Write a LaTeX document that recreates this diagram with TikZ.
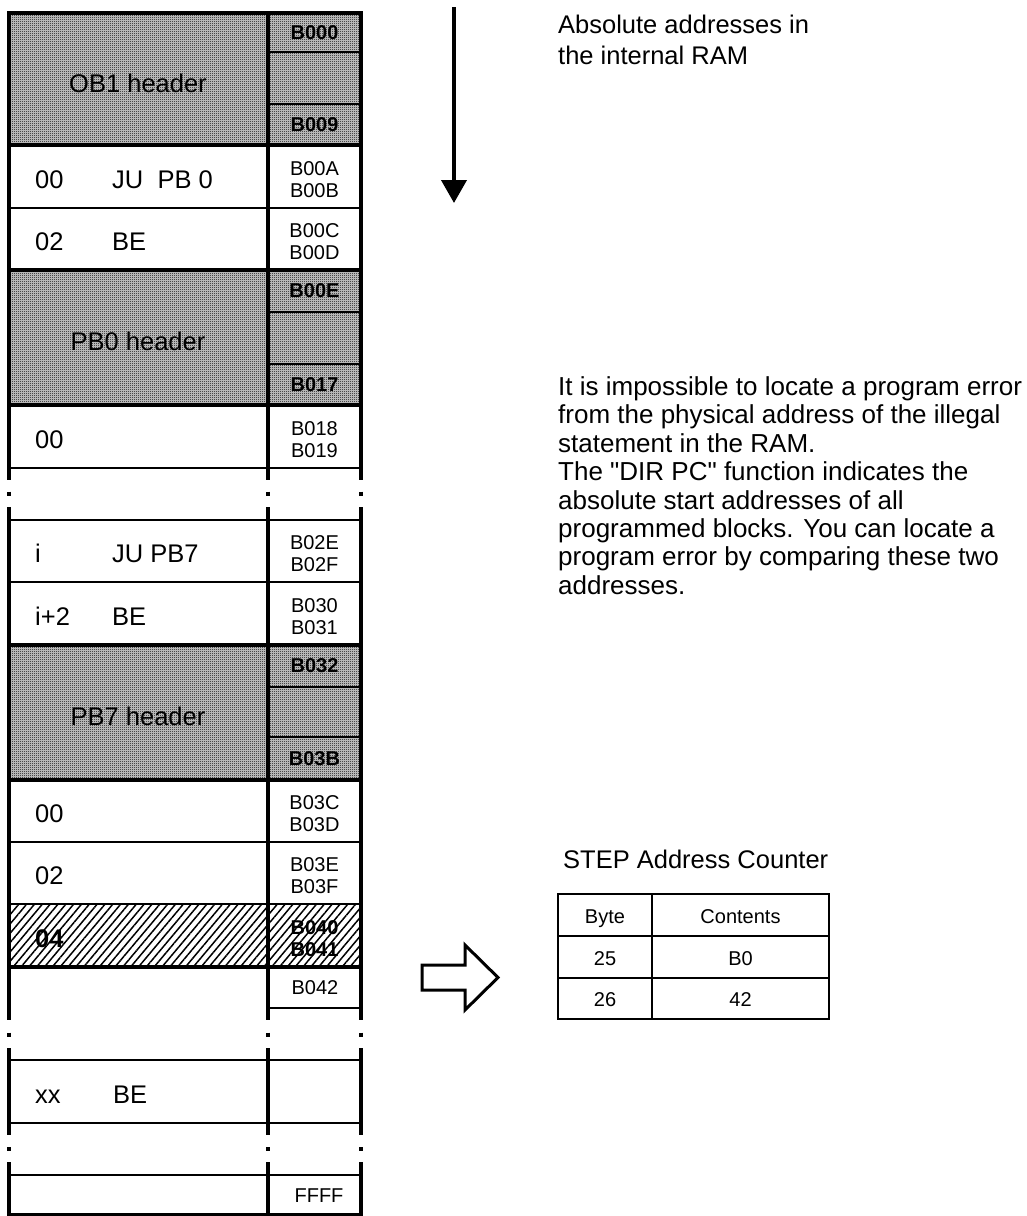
\documentclass[tikz,border=0pt]{standalone}
\usepackage{fontspec}
\setmainfont{Liberation Sans}
\usetikzlibrary{arrows.meta,patterns,patterns.meta}

\pgfdeclarepatternformonly{stipple}{\pgfpointorigin}{\pgfqpoint{2pt}{2pt}}{\pgfqpoint{2pt}{2pt}}{%
  \pgfpathrectangle{\pgfpointorigin}{\pgfqpoint{1pt}{1pt}}%
  \pgfpathrectangle{\pgfqpoint{1pt}{1pt}}{\pgfqpoint{1pt}{1pt}}%
  \pgfusepath{fill}}

\tikzset{
  heavy/.style={line width=3.6pt},
  light/.style={line width=2.2pt},
  big/.style={font=\fontsize{25.5}{30.5}\selectfont, inner sep=0pt},
  addr/.style={font=\fontsize{20}{22}\selectfont, align=center, inner sep=0pt},
  boldaddr/.style={addr, font=\fontsize{20}{22}\selectfont\bfseries},
  cell/.style={font=\fontsize{20}{22}\selectfont, inner sep=0pt, anchor=base},
  header/.style={fill=gray!35, postaction={pattern=stipple}}
}

\begin{document}
\begin{tikzpicture}[x=1pt,y=-1pt]
\useasboundingbox (0,0) rectangle (1026,1216);

\fill[header] (9,13) rectangle (361,145);
\fill[header] (9,270) rectangle (361,405);
\fill[header] (9,645) rectangle (361,780);
\fill[pattern={Lines[angle=50,distance=6pt,line width=1.5pt]}] (9,904) rectangle (361,967);

\draw[heavy, line cap=rect] (9,13) -- (361,13) (9,145) -- (361,145) (9,270) -- (361,270)
  (9,405) -- (361,405) (9,645) -- (361,645) (9,780) -- (361,780) (9,967) -- (361,967)
  (9,1215) -- (361,1215);
\draw[light] (9,208) -- (361,208) (9,468) -- (361,468) (9,520) -- (361,520)
  (9,582) -- (361,582) (9,842) -- (361,842) (9,904) -- (361,904)
  (9,1060) -- (361,1060) (9,1123) -- (361,1123) (9,1175) -- (361,1175);
\draw[light] (268,52) -- (361,52) (268,104) -- (361,104) (268,312) -- (361,312)
  (268,364) -- (361,364) (268,687) -- (361,687) (268,737) -- (361,737)
  (268,1008) -- (361,1008);

\draw[heavy] (9,13) -- (9,480) (9,507) -- (9,1020) (9,1048) -- (9,1135) (9,1162) -- (9,1215);
\draw[heavy] (268,13) -- (268,480) (268,507) -- (268,1020) (268,1048) -- (268,1135) (268,1162) -- (268,1215);
\draw[heavy] (361,13) -- (361,480) (361,507) -- (361,1020) (361,1048) -- (361,1135) (361,1162) -- (361,1215);
\draw[heavy] (9,491.5) -- (9,495.5) (268,491.5) -- (268,495.5) (361,491.5) -- (361,495.5);
\draw[heavy] (9,1032.5) -- (9,1036.5) (268,1032.5) -- (268,1036.5) (361,1032.5) -- (361,1036.5);
\draw[heavy] (9,1147) -- (9,1151) (268,1147) -- (268,1151) (361,1147) -- (361,1151);

\node[big] (ob1) at (138,83) {OB1 header};
\node[boldaddr] (a0) at (314.5,32.5) {B000};
\node[boldaddr] (a9) at (314.5,125) {B009};

\node[big, anchor=base west] (r1o) at (35,188) {00};
\node[big, anchor=base west] (r1c) at (112,188) {JU\ \ PB 0};
\node[addr] (r1a) at (314.5,180) {B00A\\B00B};

\node[big, anchor=base west] (r2o) at (35,250) {02};
\node[big, anchor=base west] (r2c) at (112,250) {BE};
\node[addr] (r2a) at (314.5,242) {B00C\\B00D};

\node[big] (pb0) at (138,341) {PB0 header};
\node[boldaddr] (ae) at (314.5,291) {B00E};
\node[boldaddr] (a17) at (314.5,385) {B017};

\node[big, anchor=base west] (r3o) at (35,448) {00};
\node[addr] (r3a) at (314.5,440) {B018\\B019};

\node[big, anchor=base west] (r4o) at (35,562) {i};
\node[big, anchor=base west] (r4c) at (112,562) {JU PB7};
\node[addr] (r4a) at (314.5,554) {B02E\\B02F};

\node[big, anchor=base west] (r5o) at (35,625) {i+2};
\node[big, anchor=base west] (r5c) at (112,625) {BE};
\node[addr] (r5a) at (314.5,617) {B030\\B031};

\node[big] (pb7) at (138,716) {PB7 header};
\node[boldaddr] (a32) at (314.5,666) {B032};
\node[boldaddr] (a3b) at (314.5,759) {B03B};

\node[big, anchor=base west] (r6o) at (35,822) {00};
\node[addr] (r6a) at (314.5,814) {B03C\\B03D};

\node[big, anchor=base west] (r7o) at (35,884) {02};
\node[addr] (r7a) at (314.5,876) {B03E\\B03F};

\node[big, anchor=base west, font=\fontsize{25.5}{30.5}\selectfont\bfseries] (r8o) at (35,947) {04};
\node[boldaddr] (r8a) at (314.5,939) {B040\\B041};

\node[addr] (r9a) at (315,988) {B042};

\node[big, anchor=base west] (r10o) at (35,1103) {xx};
\node[big, anchor=base west] (r10c) at (113,1103) {BE};

\node[addr] (end) at (319,1195.5) {FFFF};

\coordinate (down0) at (454,7);
\coordinate (down1) at (454,203);
\draw[line width=4pt, -{Triangle[width=25pt,length=23pt]}] (down0) -- (down1);

\node[big, anchor=north west, align=left] (head) at (558,15) {Absolute addresses in\\the internal RAM};

\node[big, anchor=north west, align=left, font=\fontsize{26}{28.4}\selectfont] (note) at (558,376.5)
  {It is impossible to locate a program error\\from the physical address of the illegal\\statement in the RAM.\\The \textquotedbl DIR PC\textquotedbl{} function indicates the\\absolute start addresses of all\\programmed blocks. You can locate a\\program error by comparing these two\\addresses.};

\draw[line width=3pt] (422,965) -- (465,965) -- (465,945) -- (498,977.5) -- (465,1010) -- (465,990) -- (422,990) -- cycle;

\node[big, anchor=base west] (ctr) at (563,868) {STEP Address Counter};

\draw[line width=1.8pt] (558,894) rectangle (829,1019);
\draw[line width=1.8pt] (558,936) -- (829,936) (558,978) -- (829,978) (652,894) -- (652,1019);
\node[cell] (byte) at (605,923) {Byte};
\node[cell] (cont) at (740.5,923) {Contents};
\node[cell] (b25) at (605,965) {25};
\node[cell] (v25) at (740.5,965) {B0};
\node[cell] (b26) at (605,1006) {26};
\node[cell] (v26) at (740.5,1006) {42};
\end{tikzpicture}
\end{document}
